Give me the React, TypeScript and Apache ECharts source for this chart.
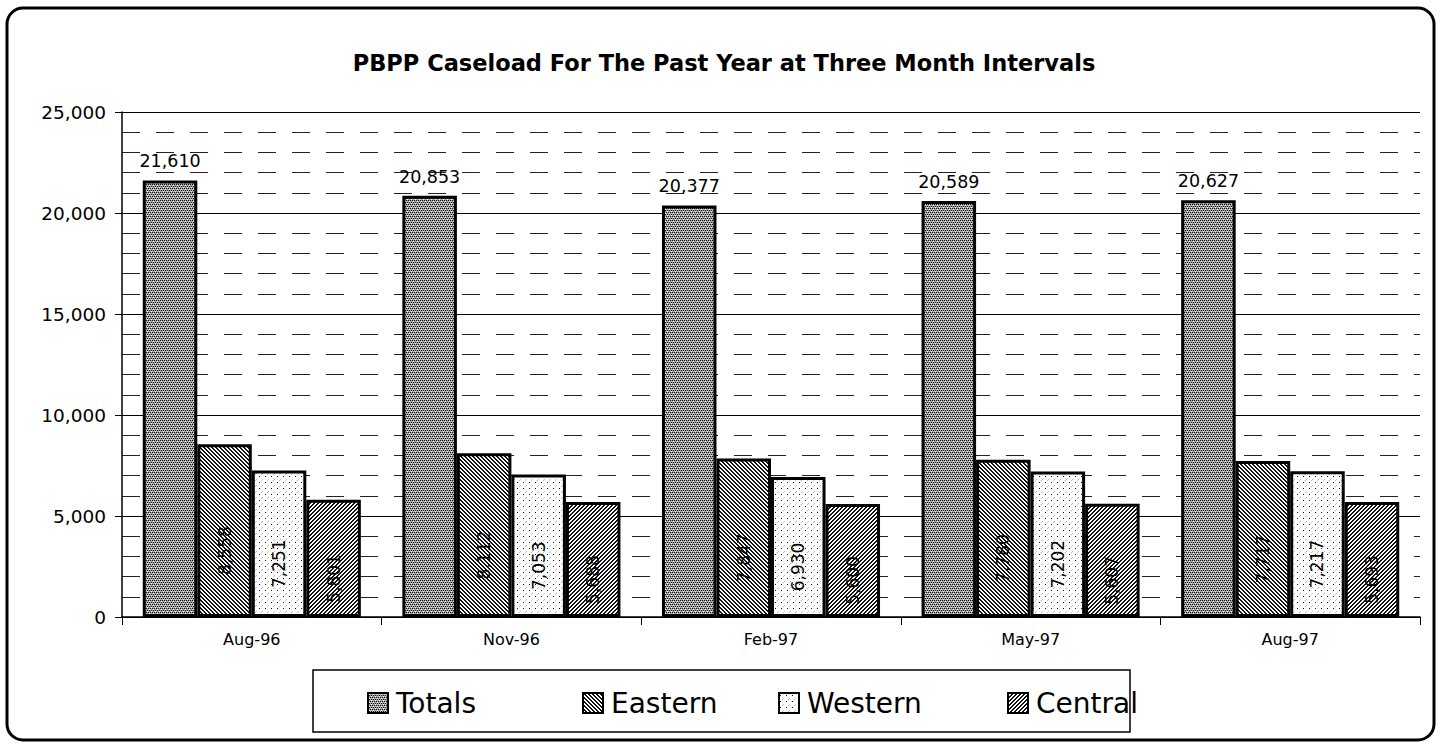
import React, { useEffect, useRef } from "react";
import * as echarts from "echarts";

const categories = ["Aug-96", "Nov-96", "Feb-97", "May-97", "Aug-97"];
const totals = [21610, 20853, 20377, 20589, 20627];
const eastern = [8558, 8112, 7847, 7780, 7717];
const western = [7251, 7053, 6930, 7202, 7217];
const central = [5801, 5688, 5600, 5607, 5693];
const seriesNames = ["Totals", "Eastern", "Western", "Central"];

function makePattern(kind: string): HTMLCanvasElement {
  const c = document.createElement("canvas");
  const n = kind === "western" ? 6 : 4;
  c.width = n;
  c.height = n;
  const g = c.getContext("2d")!;
  g.fillStyle = kind === "totals" ? "#a8a8a8" : "#ffffff";
  g.fillRect(0, 0, n, n);
  g.fillStyle = "#111111";
  for (let y = 0; y < n; y++) {
    for (let x = 0; x < n; x++) {
      let on = false;
      if (kind === "totals") on = y % 2 === 0 && (x + y / 2) % 2 === 0;
      if (kind === "eastern") on = (((x - y) % 4) + 4) % 4 < 2;
      if (kind === "central") on = (x + y) % 4 < 2;
      if (kind === "western") on = x === 1 && y === 2;
      if (on) g.fillRect(x, y, 1, 1);
    }
  }
  if (kind === "totals") {
    g.fillStyle = "#ffffff";
    g.fillRect(1, 1, 1, 1);
    g.fillRect(3, 3, 1, 1);
  }
  if (kind === "western") {
    g.fillStyle = "#c0c0c0";
    g.fillRect(4, 5, 1, 1);
    g.fillRect(3, 0, 1, 1);
  }
  return c;
}

const FONT = "DejaVu Sans";

export default function App() {
  const ref = useRef<HTMLDivElement>(null);
  useEffect(() => {
    if (!ref.current) return;
    const chart = echarts.init(ref.current, undefined, { renderer: "svg" });
    const pats = {
      totals: makePattern("totals"),
      eastern: makePattern("eastern"),
      western: makePattern("western"),
      central: makePattern("central"),
    };
    const insideLabel = {
      show: true,
      position: "inside",
      rotate: 90,
      offset: [-20, 0],
      color: "#000",
      fontFamily: FONT,
      fontSize: 17,
      formatter: (p: any) => Number(p.value).toLocaleString("en-US"),
    };
    const mk = (name: string, data: number[], pat: HTMLCanvasElement, label: any) => ({
      name,
      type: "bar",
      data,
      barGap: "0%",
      barCategoryGap: "16%",
      itemStyle: {
        color: { image: pat, repeat: "repeat" },
        borderColor: "#000",
        borderWidth: 3,
      },
      label,
    });
    const legendPos = [362, 577, 773, 1002];
    chart.setOption({
      animation: false,
      backgroundColor: "#fff",
      title: {
        text: "PBPP Caseload For The Past Year at Three Month Intervals",
        left: 719,
        textAlign: "center",
        top: 46,
        textStyle: {
          fontFamily: FONT,
          fontWeight: "bold",
          fontSize: 22.5,
          color: "#000",
        },
      },
      grid: { left: 122, right: 21, top: 112, bottom: 129, containLabel: false },
      legend: seriesNames.map((nm, i) => ({
        data: [{ name: nm, icon: "rect" }],
        left: legendPos[i],
        top: 684,
        itemWidth: 20,
        itemHeight: 20,
        itemGap: 4,
        itemStyle: { borderWidth: 2, borderColor: "#000" },
        textStyle: { fontFamily: FONT, fontSize: 28, color: "#000", padding: [0, 0, 0, 3] },
        selectedMode: false,
      })),
      xAxis: {
        type: "category",
        data: categories,
        axisLine: { show: true, lineStyle: { color: "#000", width: 1.5 } },
        axisTick: { show: true, length: 8, lineStyle: { color: "#000" } },
        axisLabel: { fontFamily: FONT, fontSize: 16, color: "#000", margin: 14 },
      },
      yAxis: {
        type: "value",
        min: 0,
        max: 25000,
        interval: 5000,
        axisLine: { show: true, lineStyle: { color: "#000", width: 1.5 } },
        axisTick: { show: true, length: 7, lineStyle: { color: "#000" } },
        axisLabel: {
          fontFamily: FONT,
          fontSize: 18.5,
          color: "#000",
          margin: 16,
          formatter: (v: number) => v.toLocaleString("en-US"),
        },
        splitLine: { show: true, lineStyle: { color: "#000", width: 1 } },
        minorTick: { show: false, splitNumber: 5 },
        minorSplitLine: { show: true, lineStyle: { color: "#222", width: 1, type: [18, 16] } },
      },
      series: [
        mk("Totals", totals, pats.totals, {
          show: true,
          position: "top",
          distance: 10,
          color: "#000",
          fontFamily: FONT,
          fontSize: 17.5,
          formatter: (p: any) => Number(p.value).toLocaleString("en-US"),
        }),
        mk("Eastern", eastern, pats.eastern, insideLabel),
        mk("Western", western, pats.western, insideLabel),
        mk("Central", central, pats.central, insideLabel),
      ],
      graphic: [
        {
          type: "rect",
          shape: { x: 7, y: 8, width: 1427, height: 732, r: 16 },
          style: { fill: "none", stroke: "#000", lineWidth: 3 },
          silent: true,
        },
        {
          type: "rect",
          shape: { x: 313, y: 670, width: 817, height: 62 },
          style: { fill: "none", stroke: "#000", lineWidth: 1.5 },
          silent: true,
        },
      ],
    });
    return () => chart.dispose();
  }, []);
  return (
    <div
      ref={ref}
      style={{ position: "fixed", left: 0, top: 0, width: 1441, height: 746 }}
    />
  );
}
